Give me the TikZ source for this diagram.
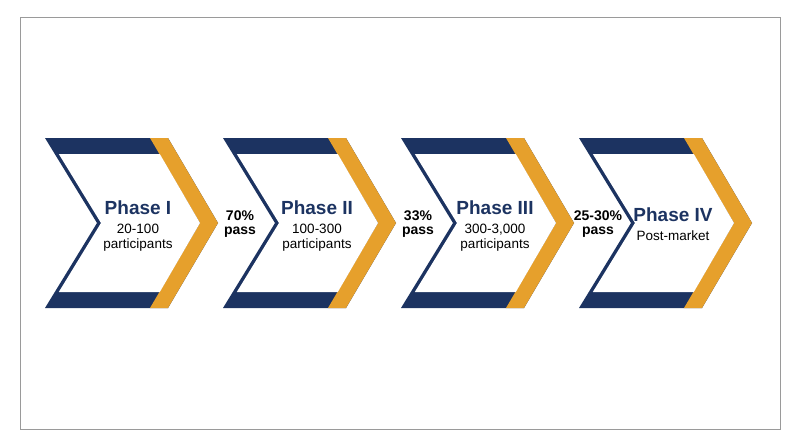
\documentclass[tikz,border=0pt]{standalone}
\usepackage{fontspec}
\setmainfont{Liberation Sans}
\definecolor{navy}{HTML}{1C3361}
\definecolor{gold}{HTML}{E6A02C}
\definecolor{framegray}{HTML}{9A9A9A}
\begin{document}
\begin{tikzpicture}[x=1pt,y=-1pt,
  title/.style={font=\fontsize{19}{21}\selectfont\bfseries, text=navy, inner sep=0pt},
  sub/.style={font=\fontsize{13.5}{15}\selectfont, text=black, align=center, inner sep=0pt},
  passlbl/.style={font=\fontsize{14}{13.5}\selectfont\bfseries, text=black, align=center, inner sep=0pt}]
\useasboundingbox (0,0) rectangle (800,447);
\fill[white] (0,0) rectangle (800,447);
\draw[framegray, line width=1pt] (20,17) rectangle (780,429);
\foreach \X in {45,223,401,579}{
  \begin{scope}[shift={(\X,0)}]
    \fill[navy] (0,138) -- (123,138) -- (173,223) -- (123,308) -- (0,308) -- (52,223) -- cycle;
    \fill[gold] (105,138) -- (123,138) -- (173,223) -- (123,308) -- (105,308) -- (155,223) -- cycle;
    \fill[white] (13.8,154) -- (114.8,154) -- (155,223) -- (114.8,292) -- (13.8,292) -- (56,223) -- cycle;
  \end{scope}
}
\node[title] (t1) at (138,208) {Phase I};
\node[sub] (s1) at (138,238) {20-100\\participants};
\node[title] (t2) at (317,208) {Phase II};
\node[sub] (s2) at (317,238) {100-300\\participants};
\node[title] (t3) at (495,208) {Phase III};
\node[sub] (s3) at (495,238) {300-3,000\\participants};
\node[title] (t4) at (673,215) {Phase IV};
\node[sub] (s4) at (673,236) {Post-market};
\node[passlbl] (p1) at (240,224) {70\%\\pass};
\node[passlbl] (p2) at (418,224) {33\%\\pass};
\node[passlbl] (p3) at (598,224) {25-30\%\\pass};
\end{tikzpicture}
\end{document}
